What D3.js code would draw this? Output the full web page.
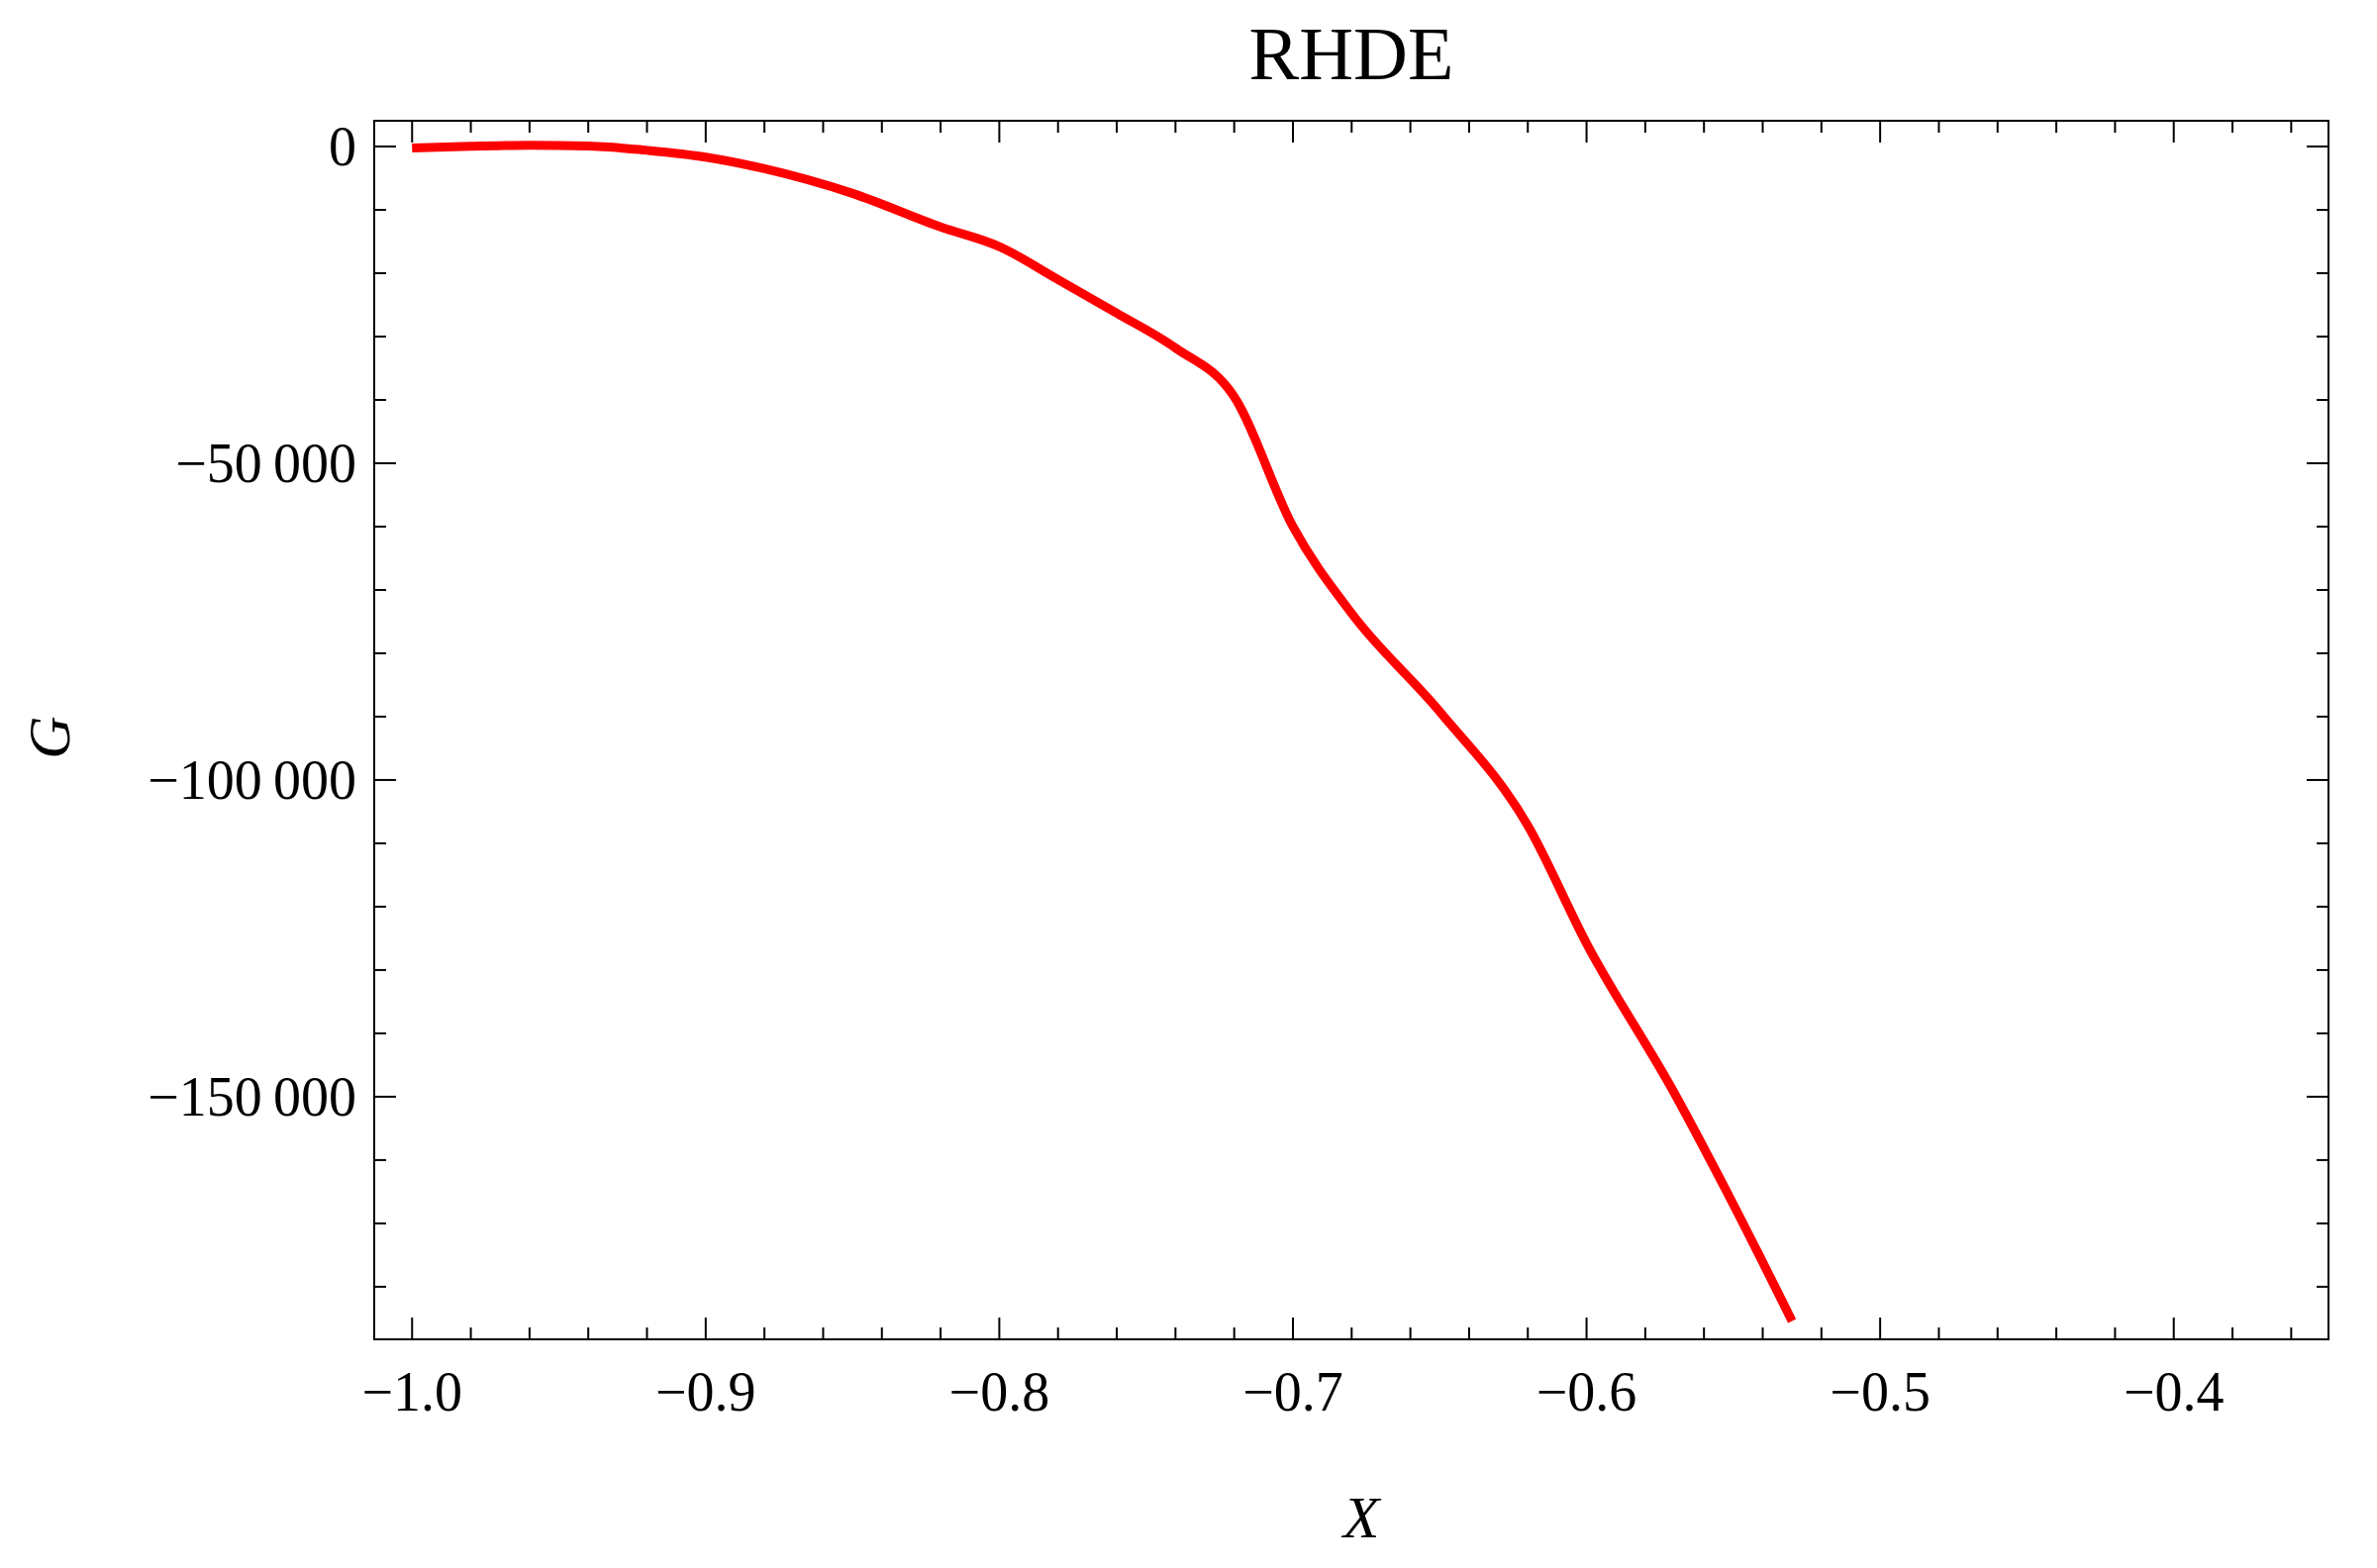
<!DOCTYPE html>
<html><head><meta charset="utf-8">
<script src="https://cdn.jsdelivr.net/npm/d3@7"></script>
<style>body{margin:0;background:#fff}</style></head>
<body><svg id="c" width="2401" height="1584"></svg>
<script>
const xs = [-1.0,-0.98,-0.96,-0.94,-0.92,-0.9,-0.88,-0.85,-0.82,-0.8,-0.78,-0.76,-0.74,-0.72,-0.7,-0.68,-0.65,-0.62,-0.6,-0.57,-0.55,-0.53];
const gs = [-240,50,200,100,-600,-1670,-3500,-7400,-12700,-15800,-21000,-26300,-31800,-49000+10000,-60000,-73700,-89200,-107200,-125800,-149500,-167000,-185400];
gs[13] = -39500;
const xTicks = [-1.0,-0.9,-0.8,-0.7,-0.6,-0.5,-0.4];
const yTicks = [0,-50000,-100000,-150000];
const svg = d3.select("#c");
const L=378,R=2352,T=122,B=1353;
const x = d3.scaleLinear().domain([-1.0129,-0.3473]).range([L,R]);
const y = d3.scaleLinear().domain([-188300,4067]).range([B,T]);
const font="Liberation Serif, Times New Roman, serif";
svg.append("rect").attr("x",L).attr("y",T).attr("width",R-L).attr("height",B-T).attr("fill","none").attr("stroke","#000").attr("stroke-width",2);
const g=svg.append("g").attr("stroke","#000").attr("stroke-width",2);
const xMinor=d3.range(-1.0,-0.34,0.02);
xMinor.forEach(v=>{const maj=xTicks.some(t=>Math.abs(t-v)<1e-6);const len=maj?22:12;const px=x(v);
 g.append("line").attr("x1",px).attr("x2",px).attr("y1",B).attr("y2",B-len);
 g.append("line").attr("x1",px).attr("x2",px).attr("y1",T).attr("y2",T+len);});
d3.range(0,-190000,-10000).forEach(v=>{const maj=v%50000===0;const len=maj?22:12;const py=y(v);
 g.append("line").attr("x1",L).attr("x2",L+len).attr("y1",py).attr("y2",py);
 g.append("line").attr("x1",R).attr("x2",R-len).attr("y1",py).attr("y2",py);});
const fmt=v=>{const s=Math.abs(v).toString().replace(/\B(?=(\d{3})+(?!\d))/g,"\u2009");return (v<0?"\u2212":"")+s;};
xTicks.forEach(v=>svg.append("text").attr("x",x(v)).attr("y",B+72).attr("text-anchor","middle").attr("font-family",font).attr("font-size",56).text((v<0?"\u2212":"")+Math.abs(v).toFixed(1)));
yTicks.forEach(v=>svg.append("text").attr("x",L-18).attr("y",y(v)+19).attr("text-anchor","end").attr("font-family",font).attr("font-size",56).text(fmt(v)));
svg.append("text").attr("x",(L+R)/2).attr("y",80).attr("text-anchor","middle").attr("font-family",font).attr("font-size",76).text("RHDE");
svg.append("text").attr("x",1375).attr("y",1553).attr("text-anchor","middle").attr("font-family",font).attr("font-style","italic").attr("font-size",60).text("X");
svg.append("text").attr("transform","translate(70,745) rotate(-90)").attr("text-anchor","middle").attr("font-family",font).attr("font-style","italic").attr("font-size",60).text("G");
svg.append("path").datum(xs.map((v,i)=>[v,gs[i]])).attr("fill","none").attr("stroke","#ff0000").attr("stroke-width",9)
 .attr("d",d3.line().x(d=>x(d[0])).y(d=>y(d[1])).curve(d3.curveMonotoneX));
</script></body></html>
